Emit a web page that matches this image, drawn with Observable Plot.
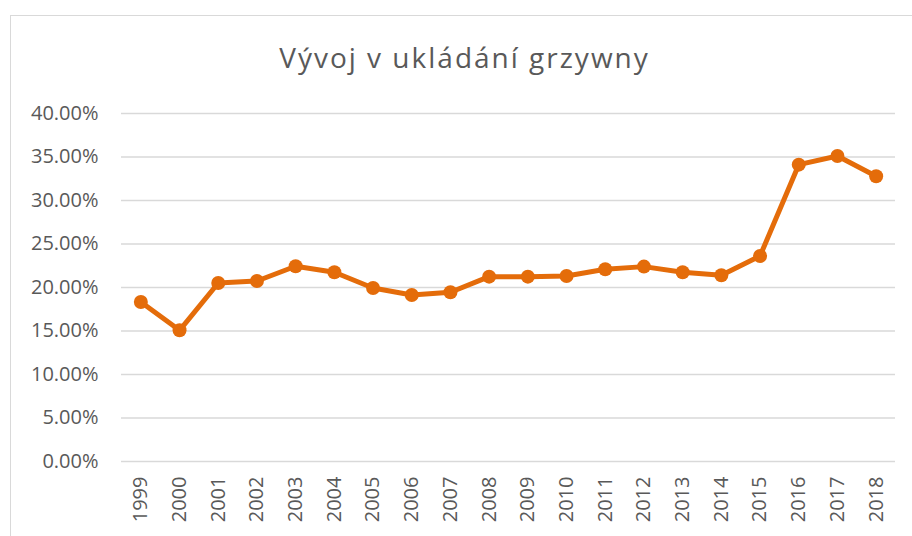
<!DOCTYPE html>
<html>
<head>
<meta charset="utf-8">
<script src="https://cdn.jsdelivr.net/npm/d3@7"></script>
<script src="https://cdn.jsdelivr.net/npm/@observablehq/plot@0.6"></script>
<style>
  html, body { margin: 0; padding: 0; background: #fff; overflow: hidden; }
  #wrap { position: relative; width: 912px; height: 536px; }
  #frame { position: absolute; left: 10px; top: 15px; width: 1000px; height: 1000px; border: 1.3px solid #d9d9d9; box-sizing: border-box; }
  #title { position: absolute; left: 0; top: 38px; width: 929px; text-align: center; font-family: "Open Sans", sans-serif; font-size: 28px; letter-spacing: 2px; color: #595959; line-height: 1.362; white-space: nowrap; }
  #chart { position: absolute; left: 0; top: 0; }
</style>
</head>
<body>
<div id="wrap">
  <div id="frame"></div>
  <div id="title">Vývoj v ukládání grzywny</div>
  <div id="chart"></div>
</div>
<script>
const years = ["1999","2000","2001","2002","2003","2004","2005","2006","2007","2008","2009","2010","2011","2012","2013","2014","2015","2016","2017","2018"];
const values = [18.33,15.08,20.52,20.75,22.44,21.75,19.94,19.14,19.45,21.25,21.25,21.32,22.09,22.40,21.75,21.40,23.62,34.12,35.12,32.78];
const yTicks = [0,5,10,15,20,25,30,35,40];

const data = years.map((y, i) => ({year: y, value: values[i]}));
const orange = "#E46C0A";

const chart = Plot.plot({
  width: 912,
  height: 536,
  marginLeft: 121,
  marginRight: 17,
  marginTop: 113,
  marginBottom: 75,
  style: { fontFamily: "'Open Sans', sans-serif", fontSize: "20px", color: "#595959", background: "transparent" },
  x: { type: "point", domain: years, padding: 0.5, round: false, label: null },
  y: { domain: [0, 40], label: null },
  marks: [
    Plot.ruleY(yTicks, { stroke: "#d9d9d9", strokeWidth: 1.6 }),
    Plot.axisY({ ticks: yTicks, tickFormat: d => d.toFixed(2) + "%", tickSize: 0, tickPadding: 23, label: null, fontSize: 20 }),
    Plot.axisX({ tickSize: 0, tickRotate: -90, tickPadding: 15, label: null, fontSize: 20 }),
    Plot.line(data, { x: "year", y: "value", stroke: orange, strokeWidth: 5, strokeLinejoin: "round", strokeLinecap: "round" }),
    Plot.dot(data, { x: "year", y: "value", r: 7, fill: orange, stroke: "none" })
  ]
});
document.getElementById("chart").appendChild(chart);
</script>
</body>
</html>
